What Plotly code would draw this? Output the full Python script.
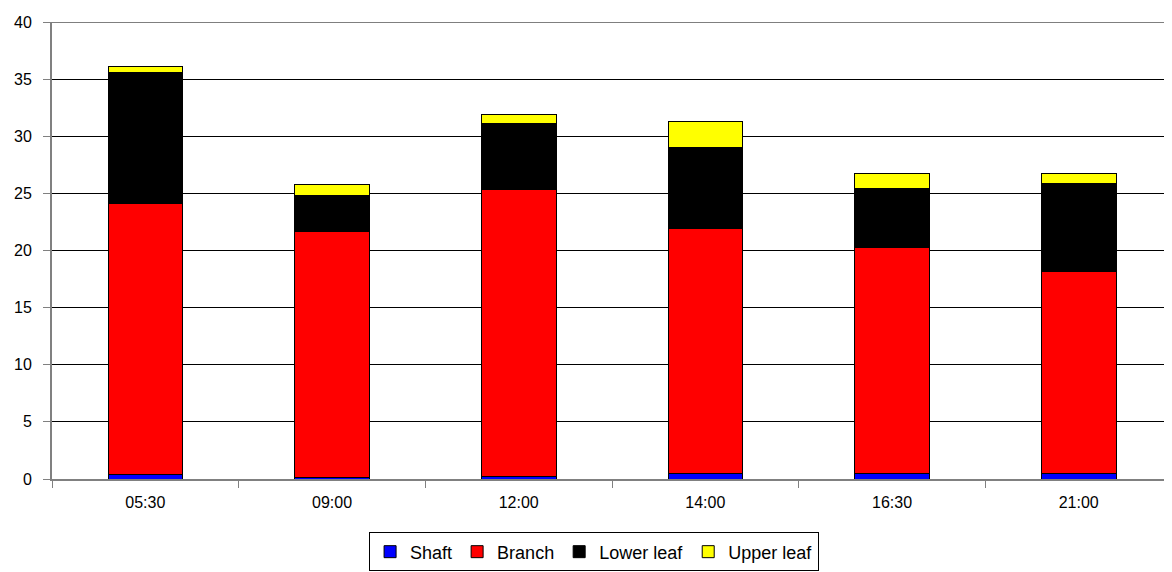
import plotly.graph_objects as go

# sample times
times = ['05:30', '09:00', '12:00', '14:00', '16:30', '21:00']

# stacked components
shaft = [0.4, 0.1, 0.25, 0.45, 0.45, 0.45]
branch = [23.7, 21.6, 25.05, 21.45, 19.85, 17.75]
lower_leaf = [11.45, 3.15, 5.8, 7.1, 5.1, 7.7]
upper_leaf = [0.55, 0.95, 0.8, 2.25, 1.3, 0.8]

series = [
    ('Shaft', shaft, '#0000FF'),
    ('Branch', branch, '#FF0000'),
    ('Lower leaf', lower_leaf, '#000000'),
    ('Upper leaf', upper_leaf, '#FFFF00'),
]

fig = go.Figure()
for name, vals, color in series:
    fig.add_trace(go.Bar(
        x=times, y=vals, name=name,
        marker=dict(color=color, line=dict(color='#000000', width=1)),
        width=0.4,
    ))

# page body has an 8px margin, so the figure is sized 8px smaller
fig.update_layout(
    barmode='stack',
    width=1164, height=564,
    margin=dict(l=44, r=0, t=14, b=93),
    paper_bgcolor='white',
    plot_bgcolor='white',
    font=dict(family='Liberation Sans, Arial, sans-serif', size=16, color='black'),
    showlegend=True,
    legend=dict(
        orientation='h',
        x=0.484, xanchor='center',
        y=-0.117, yanchor='top',
        bordercolor='black', borderwidth=1,
        font=dict(size=18),
        itemwidth=30,
        traceorder='normal',
    ),
    # top gridline at 40 (plotly drops the one on the range edge)
    shapes=[dict(type='line', xref='paper', x0=0, x1=1, yref='y', y0=40, y1=40,
                 line=dict(color='#000000', width=1), layer='below')],
)

fig.update_xaxes(
    type='category',
    tickson='boundaries',
    ticks='outside', ticklen=7, tickcolor='#808080',
    showline=True, linecolor='#808080', linewidth=2,
    showgrid=False,
    ticklabelstandoff=8,
    automargin=False,
)

fig.update_yaxes(
    range=[0, 40],
    dtick=5,
    ticks='outside', ticklen=7, tickcolor='#808080',
    showline=True, linecolor='#808080', linewidth=2,
    showgrid=True, gridcolor='#000000', gridwidth=1,
    zeroline=False,
    ticklabelstandoff=8,
    automargin=False,
)

fig.write_html('out.html')
